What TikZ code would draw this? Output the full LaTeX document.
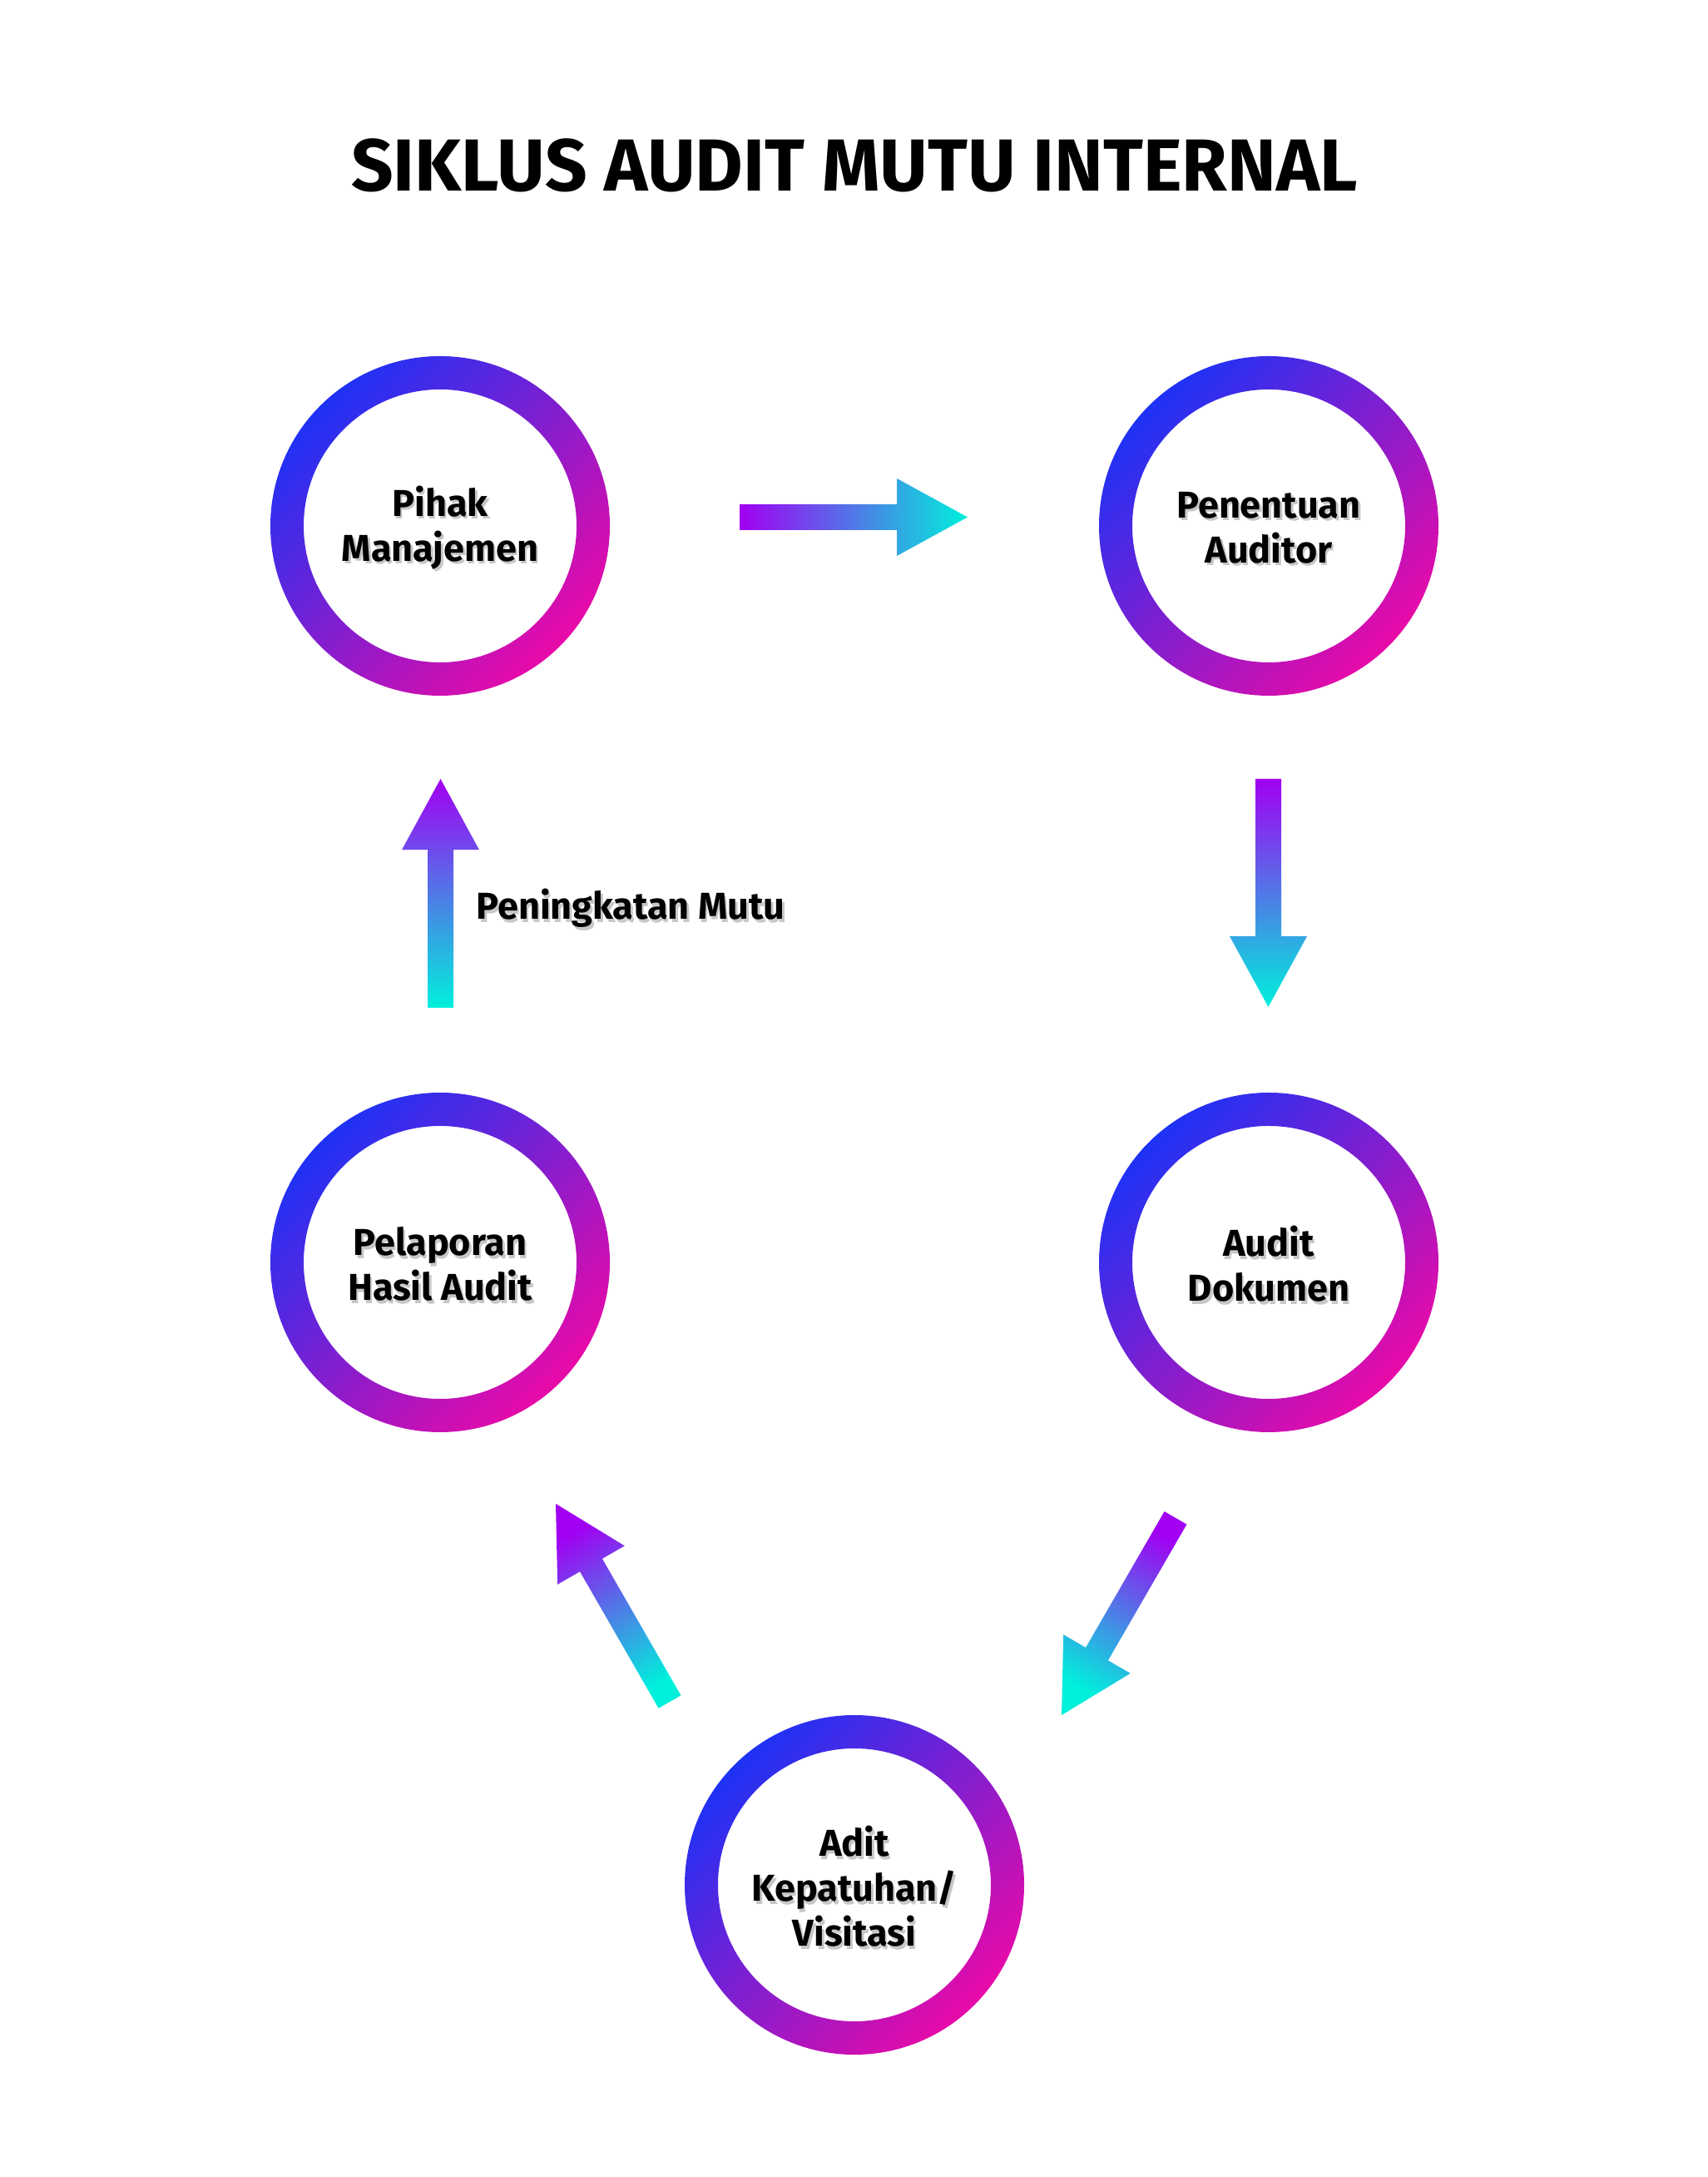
\documentclass[tikz,border=0pt]{standalone}
\usepackage{fontspec}
\setmainfont{Fira Sans}
\usetikzlibrary{calc, positioning}

\definecolor{ringblue}{HTML}{1E32F5}
\definecolor{ringpink}{HTML}{E80AA8}
\definecolor{purp}{HTML}{A100F2}
\definecolor{cyn}{HTML}{00F0DC}

\tikzset{
  stagetext/.style={font=\bfseries\fontsize{12.8}{15.4}\selectfont, align=center, inner sep=0pt},
  shadowtext/.style={stagetext, text opacity=0.22},
  stagering/.style={even odd rule, top color=ringblue, bottom color=ringpink, shading angle=45},
  tailpurple/.style={top color=purp, bottom color=cyn, shading angle=#1},
  tailcyan/.style={top color=cyn, bottom color=purp, shading angle=#1}
}

\newcommand{\gradarrow}[3]{%
  \coordinate (neck) at ($(#1)!0.69!(#2)$);
  \shade[#3] ($(#1)!0.155cm!90:(#2)$) -- ($(neck)!0.155cm!90:(#2)$)
    -- ($(neck)!0.465cm!90:(#2)$) -- (#2) -- ($(neck)!0.465cm!-90:(#2)$)
    -- ($(neck)!0.155cm!-90:(#2)$) -- ($(#1)!0.155cm!-90:(#2)$) -- cycle;
}

\begin{document}
\begin{tikzpicture}
\useasboundingbox (0,0) rectangle (20.53,26.16);

\node[font=\bfseries\fontsize{25.2}{30}\selectfont, anchor=base, inner sep=0pt] (title) at (10.27,23.86) {SIKLUS AUDIT MUTU INTERNAL};

\foreach \n/\x/\y/\t in {pm/5.29/19.84/{Pihak\\Manajemen},
                        pa/15.25/19.84/{Penentuan\\Auditor},
                        ad/15.25/10.99/{Audit\\Dokumen},
                        ak/10.27/3.51/{Adit\\Kepatuhan/\\Visitasi},
                        ph/5.29/10.99/{Pelaporan\\Hasil Audit}}{
  \shade[stagering] (\x,\y) circle (2.04) (\x,\y) circle (1.64);
  \node[shadowtext] at ([shift={(0.025,-0.055)}]\x,\y) {\t};
  \node[stagetext] (\n) at ([yshift=-0.02cm]\x,\y) {\t};
}

\coordinate (r1) at (8.89,19.945);
\coordinate (r2) at (11.63,19.945);
\coordinate (d1) at (15.245,16.80);
\coordinate (d2) at (15.245,14.06);
\coordinate (g1) at (14.13,7.92);
\coordinate (g2) at (12.76,5.55);
\coordinate (h1) at (8.05,5.71);
\coordinate (h2) at (6.68,8.09);
\coordinate (u1) at (5.295,14.05);
\coordinate (u2) at (5.295,16.80);

\gradarrow{r1}{r2}{tailpurple=90}
\gradarrow{d1}{d2}{tailpurple=0}
\gradarrow{g1}{g2}{tailpurple=330}
\gradarrow{h1}{h2}{tailcyan=210}
\gradarrow{u1}{u2}{tailcyan=180}

\node[shadowtext, anchor=base west] at (5.745,15.075) {Peningkatan Mutu};
\node[stagetext, anchor=base west] (mutu) at (5.72,15.11) {Peningkatan Mutu};
\end{tikzpicture}
\end{document}
